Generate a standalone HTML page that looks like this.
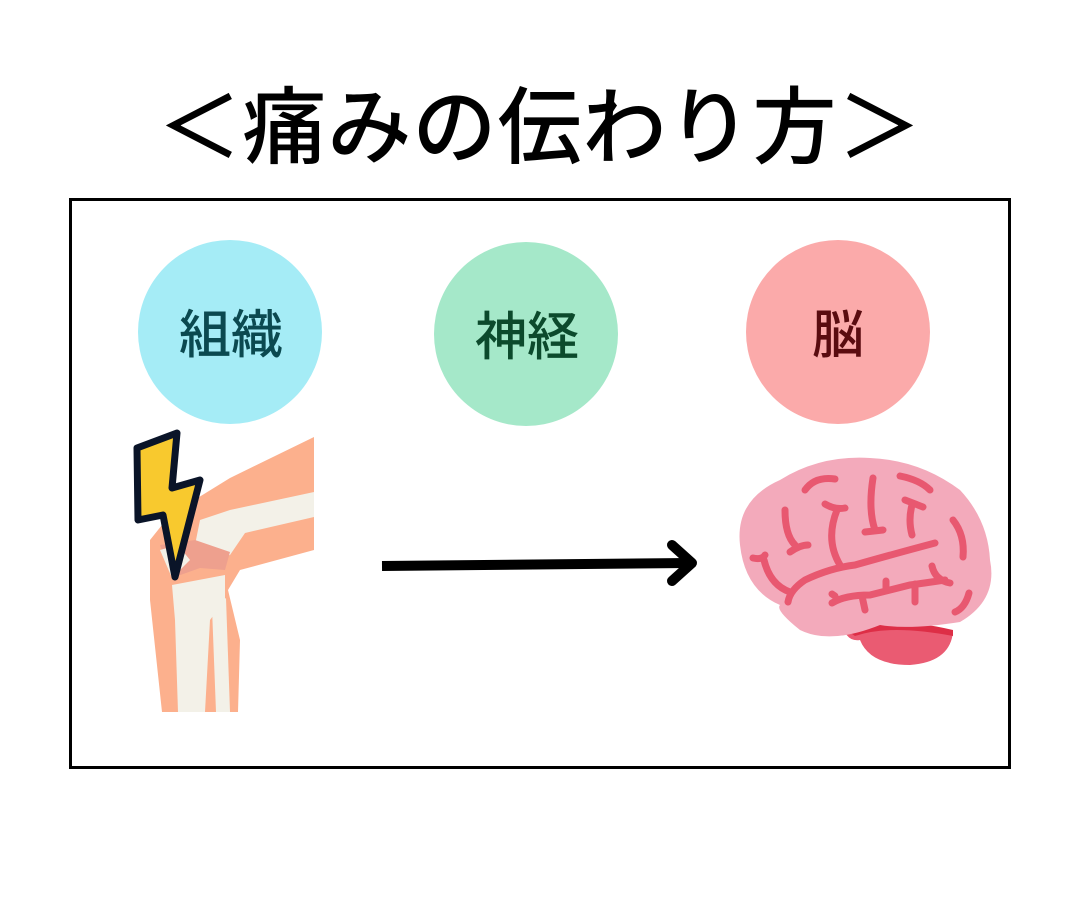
<!DOCTYPE html>
<html><head><meta charset="utf-8"><style>
html,body{margin:0;padding:0;background:#fff;width:1080px;height:900px;overflow:hidden}
text{font-family:"Liberation Sans","Noto Sans CJK JP",sans-serif}
</style></head><body>
<svg width="1080" height="900" viewBox="0 0 1080 900" xmlns="http://www.w3.org/2000/svg">
<text x="540" y="157" font-size="84" font-weight="500" letter-spacing="1" text-anchor="middle" fill="#000">＜痛みの伝わり方＞</text>
<rect x="70.5" y="199.5" width="939" height="568" fill="none" stroke="#000" stroke-width="3"/>
<circle cx="230" cy="332" r="92" fill="#a5ecf6"/>
<circle cx="526" cy="334" r="92" fill="#a5e8c9"/>
<circle cx="838" cy="332" r="92" fill="#fbaaaa"/>
<text x="231" y="353" font-size="52" font-weight="500" text-anchor="middle" fill="#0b4950">組織</text>
<text x="527" y="355" font-size="52" font-weight="500" text-anchor="middle" fill="#0c4a2c">神経</text>
<text x="838" y="353" font-size="52" font-weight="500" text-anchor="middle" fill="#5a0c10">脳</text>
<!-- knee -->
<path d="M314 437 L314 550 L240 570 L228 590 L240 640 L238 712 L162 712 L150 600 L150 540 L170 515 L230 478 Z" fill="#fcb08d"/>
<path d="M314 492 L314 517 L245 533 L230 555 L210 560 L195 545 L200 520 L230 510 Z" fill="#f3f1e8"/>
<path d="M160 545 L195 540 L230 552 L225 570 L200 568 L172 578 Z" fill="#eea08e"/>
<path d="M160 550 L178 545 L190 560 L172 578 Z" fill="#f3f1e8"/>
<path d="M172 585 L225 575 L225 600 L210 620 L205 712 L178 712 L175 620 Z" fill="#f3f1e8"/>
<path d="M212 608 L226 598 L230 712 L216 712 Z" fill="#f3f1e8"/>
<path d="M137 448 L177 433 L172 488 L200 480 L175 577 L163 515 L138 520 Z" fill="#f8c92e" stroke="#0a1428" stroke-width="7" stroke-linejoin="round"/>
<!-- arrow -->
<line x1="382" y1="566" x2="688" y2="563" stroke="#000" stroke-width="10"/>
<path d="M672 545 L692 563 L672 581" fill="none" stroke="#000" stroke-width="10" stroke-linecap="round" stroke-linejoin="round"/>
<!-- brain -->
<path d="M843 628 Q880 620 953 632 Q950 662 910 665 Q870 665 860 640 Q848 642 843 628 Z" fill="#ea5b72"/>
<path d="M843 628 Q890 615 953 630 L953 636 Q890 624 855 636 Z" fill="#dd2e46"/>
<path d="M740 545 Q735 500 780 480 Q820 455 870 458 Q920 460 960 490 Q988 520 990 560 Q998 600 960 622 Q910 630 880 625 Q830 645 800 630 Q775 610 780 605 Q745 590 740 545 Z" fill="#f3aabb"/>
<g fill="none" stroke="#e85870" stroke-width="7" stroke-linecap="round">
<path d="M805 490 Q815 476 835 479"/>
<path d="M900 476 Q920 480 930 490"/>
<path d="M785 510 Q785 535 795 545"/>
<path d="M790 552 Q800 545 808 545"/>
<path d="M825 504 Q835 510 845 508 M837 510 Q825 540 840 565"/>
<path d="M873 478 Q868 510 875 530 M865 532 L883 530"/>
<path d="M905 500 Q918 505 923 507 M912 505 Q908 520 912 535"/>
<path d="M953 520 Q965 535 963 557"/>
<path d="M753 558 Q762 560 765 555 M764 560 Q770 585 790 592 M788 602 Q790 590 805 580 Q830 568 855 565 Q890 555 935 543"/>
<path d="M832 603 Q845 595 870 595 Q890 590 910 585 Q925 583 945 580 M932 566 Q935 580 950 583 M886 581 L886 590 M835 596 L832 594 M862 596 L865 610 M915 584 L915 602"/>
<path d="M969 593 Q965 608 955 612"/>
</g>
</svg>
</body></html>
